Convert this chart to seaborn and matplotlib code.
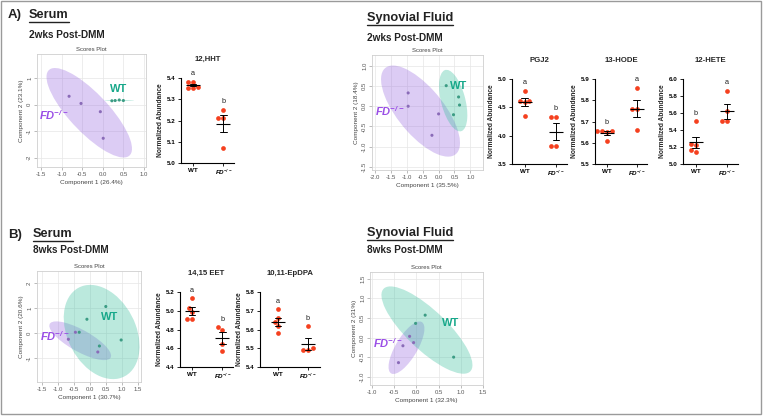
import numpy as np
import pandas as pd
import matplotlib
matplotlib.use("Agg")
import matplotlib.pyplot as plt
import seaborn as sns
from matplotlib.patches import Ellipse, Rectangle
from matplotlib.lines import Line2D

# ---------------- data ----------------
# Scores plots (sPLS-DA), points per group
a_ser_fd_x = [-0.82, -0.53, -0.06, 0.01]
a_ser_fd_y = [0.31, 0.04, -0.27, -1.27]
a_ser_wt_x = [0.22, 0.30, 0.40, 0.50]
a_ser_wt_y = [0.14, 0.15, 0.17, 0.15]
# ellipses: centre x, centre y, major, minor, angle (data units)
a_ser_fd_ell = [-0.33, -0.31, 3.8, 1.1, -61]
a_ser_wt_ell = [0.40, 0.15, 0.72, 0.04, 0]

a_syn_fd_x = [-0.96, -0.96, 0.0, -0.21]
a_syn_fd_y = [0.33, 0.0, -0.19, -0.72]
a_syn_wt_x = [0.24, 0.63, 0.66, 0.47]
a_syn_wt_y = [0.51, 0.23, 0.03, -0.21]
a_syn_fd_ell = [-0.57, -0.12, 3.1, 1.3, -41]
a_syn_wt_ell = [0.46, 0.14, 1.6, 0.75, -70]

b_ser_fd_x = [-0.45, -0.67, 0.25]
b_ser_fd_y = [0.04, -0.24, -0.75]
b_ser_wt_x = [0.50, -0.09, 0.98, 0.30, -0.33]
b_ser_wt_y = [1.07, 0.56, -0.27, -0.51, 0.04]
b_ser_fd_ell = [-0.30, -0.30, 2.34, 0.81, -37]
b_ser_wt_ell = [0.37, 0.05, 3.87, 2.2, -74]

b_syn_fd_x = [-0.15, -0.06, -0.30, -0.40]
b_syn_fd_y = [0.03, -0.13, -0.21, -0.64]
b_syn_wt_x = [0.20, -0.015, 0.84]
b_syn_wt_y = [0.57, 0.36, -0.50]
b_syn_fd_ell = [-0.22, -0.26, 1.48, 0.5, 63]
b_syn_wt_ell = [0.24, 0.19, 2.87, 0.95, -48]

# Normalized abundance dot plots
hht_wt = [5.38, 5.38, 5.36, 5.355, 5.355]
hht_fd = [5.25, 5.21, 5.21, 5.07]
pgj2_wt = [4.78, 4.62, 4.62, 4.60, 4.34]
pgj2_fd = [4.33, 4.33, 3.81, 3.81]
hode_wt = [5.655, 5.655, 5.655, 5.65, 5.606]
hode_fd = [5.86, 5.76, 5.76, 5.66]
hete_wt = [5.50, 5.24, 5.22, 5.17, 5.14]
hete_fd = [5.86, 5.62, 5.50, 5.50]
eet_wt = [5.14, 5.03, 4.99, 4.91, 4.91]
eet_fd = [4.825, 4.795, 4.65, 4.57]
epdpa_wt = [5.71, 5.66, 5.64, 5.62, 5.58]
epdpa_fd = [5.62, 5.50, 5.49, 5.49]

groups = ["WT", "FD"]
group_labels = ["WT", "FD$^{-/-}$"]

# ---------------- style ----------------
sns.set_theme(style="white")
plt.rcParams["font.family"] = ["Liberation Sans", "DejaVu Sans"]
plt.rcParams["mathtext.default"] = "regular"

W, H = 763, 419
fig = plt.figure(figsize=(W / 100, H / 100), dpi=100)
fig.patch.set_facecolor("white")

PURPLE_FILL = "#9b6ee0"
TEAL_FILL = "#3cc0a0"
PURPLE_TXT = "#9a4ee6"
TEAL_TXT = "#17a88a"
PURPLE_PT = "#8a6bb8"
TEAL_PT = "#3c9c84"
RED = "#f5401f"


def ax_px(x0, y0, x1, y1):
    return fig.add_axes([x0 / W, 1 - y1 / H, (x1 - x0) / W, (y1 - y0) / H])


def fmt_ticks(ticks):
    if all(float(t).is_integer() for t in ticks):
        return [str(int(t)) for t in ticks]
    return [f"{t:.1f}" for t in ticks]


def scores(box, fd_x, fd_y, wt_x, wt_y, fd_ell, wt_ell, xlim, xticks, ylim,
           yticks, xlabel, ylabel, wt_pos, fd_pos):
    ax = ax_px(*box)
    ax.set_axisbelow(True)
    ax.grid(True, color="#e6e6e6", lw=0.5)
    for ell, col in ((fd_ell, PURPLE_FILL), (wt_ell, TEAL_FILL)):
        ax.add_patch(Ellipse((ell[0], ell[1]), ell[2], ell[3], angle=ell[4],
                             fc=col, alpha=0.35, lw=0, zorder=1))
    df = pd.DataFrame({"x": fd_x + wt_x, "y": fd_y + wt_y,
                       "g": ["FD"] * len(fd_x) + ["WT"] * len(wt_x)})
    sns.scatterplot(data=df, x="x", y="y", hue="g",
                    palette={"FD": PURPLE_PT, "WT": TEAL_PT}, s=5,
                    linewidth=0, legend=False, ax=ax, zorder=3)
    ax.set_xlim(*xlim)
    ax.set_ylim(*ylim)
    ax.set_xticks(xticks)
    ax.set_yticks(yticks)
    ax.set_xticklabels(fmt_ticks(xticks))
    ax.set_yticklabels(fmt_ticks(yticks), rotation=90, va="center")
    ax.tick_params(labelsize=4.3, labelcolor="#555555", length=2, width=0.4,
                   color="#888888", pad=1.5, bottom=True, left=True)
    for s in ax.spines.values():
        s.set_color("#cfcfcf")
        s.set_linewidth(0.6)
    ax.set_xlabel(xlabel, fontsize=4.6, color="#444444", labelpad=2)
    ax.set_ylabel(ylabel, fontsize=4.6, color="#444444", labelpad=2)
    ax.set_title("Scores Plot", fontsize=4.3, color="#444444", pad=2.5)
    ax.text(wt_pos[0], wt_pos[1], "WT", color=TEAL_TXT, fontsize=8,
            weight="bold", ha="center", va="center", zorder=4)
    ax.text(fd_pos[0], fd_pos[1], "FD$^{-/-}$", color=PURPLE_TXT, fontsize=8,
            weight="bold", style="italic", ha="center", va="center", zorder=4)
    return ax


def dotplot(box, wt, fd, title, ylim, yticks, letters, xlim=(-0.4, 1.35)):
    ax = ax_px(*box)
    df = pd.DataFrame({"grp": ["WT"] * len(wt) + ["FD"] * len(fd),
                       "val": wt + fd})
    sns.swarmplot(data=df, x="grp", y="val", order=groups, color=RED,
                  size=3.4, linewidth=0, ax=ax, zorder=2)
    sns.pointplot(data=df, x="grp", y="val", order=groups, errorbar="se",
                  color="black", markers="_", linestyles="none", capsize=0.22,
                  markersize=9.5, markeredgewidth=0.8,
                  err_kws={"linewidth": 0.7}, ax=ax, zorder=3)
    ax.set_xlim(*xlim)
    ax.set_ylim(*ylim)
    ax.set_yticks(yticks)
    ax.set_yticklabels([f"{t:.1f}" for t in yticks])
    ax.set_xticks([0, 1])
    ax.set_xticklabels(group_labels)
    for lab, st in zip(ax.get_xticklabels(), ["normal", "italic"]):
        lab.set_style(st)
    ax.tick_params(labelsize=4.5, length=2.2, width=0.6, pad=1.5,
                   bottom=True, left=True, color="black", labelcolor="black")
    for lab in ax.get_xticklabels() + ax.get_yticklabels():
        lab.set_weight("bold")
    sns.despine(ax=ax)
    for s in ("left", "bottom"):
        ax.spines[s].set_color("black")
        ax.spines[s].set_linewidth(0.8)
    ax.set_xlabel("")
    ax.set_ylabel("Normalized Abundance", fontsize=4.8, weight="bold",
                  labelpad=2)
    ax.set_title(title, fontsize=5.6, weight="bold", pad=12)
    yr = ylim[1] - ylim[0]
    for i, (vals, let) in enumerate(zip([wt, fd], letters)):
        ax.text(i, max(vals) + 0.1 * yr, let, ha="center", va="center",
                fontsize=5.2, color="#222222")
    return ax


# ---------------- panel A ----------------
scores((37, 54, 146, 167), a_ser_fd_x, a_ser_fd_y, a_ser_wt_x, a_ser_wt_y,
       a_ser_fd_ell, a_ser_wt_ell, (-1.6, 1.05), [-1.5, -1.0, -0.5, 0.0, 0.5, 1.0],
       (-2.35, 1.9), [-2, -1, 0, 1], "Component 1 (26.4%)", "Component 2 (23.1%)",
       (0.39, 0.58), (-1.2, -0.38))
dotplot((181, 78, 234, 163), hht_wt, hht_fd, "12,HHT", (5.0, 5.4),
        [5.0, 5.1, 5.2, 5.3, 5.4], ["a", "b"])

scores((372, 55, 483, 170), a_syn_fd_x, a_syn_fd_y, a_syn_wt_x, a_syn_wt_y,
       a_syn_fd_ell, a_syn_wt_ell, (-2.1, 1.4), [-2.0, -1.5, -1.0, -0.5, 0.0, 0.5, 1.0],
       (-1.58, 1.27), [-1.5, -1.0, -0.5, 0.0, 0.5, 1.0],
       "Component 1 (35.5%)", "Component 2 (18.4%)", (0.63, 0.51), (-1.55, -0.12))
dotplot((512, 79, 567, 164), pgj2_wt, pgj2_fd, "PGJ2", (3.5, 5.0),
        [3.5, 4.0, 4.5, 5.0], ["a", "b"])
dotplot((595, 79, 647, 164), hode_wt, hode_fd, "13-HODE", (5.5, 5.9),
        [5.5, 5.6, 5.7, 5.8, 5.9], ["b", "a"])
dotplot((683, 79, 738, 164), hete_wt, hete_fd, "12-HETE", (5.0, 6.0),
        [5.0, 5.2, 5.4, 5.6, 5.8, 6.0], ["b", "a"])

# ---------------- panel B ----------------
scores((37, 271, 141, 382), b_ser_fd_x, b_ser_fd_y, b_ser_wt_x, b_ser_wt_y,
       b_ser_fd_ell, b_ser_wt_ell, (-1.65, 1.6), [-1.5, -1.0, -0.5, 0.0, 0.5, 1.0, 1.5],
       (-1.95, 2.49), [-1, 0, 1, 2], "Component 1 (30.7%)", "Component 2 (20.6%)",
       (0.63, 0.66), (-1.08, -0.11))
dotplot((180, 292, 233, 367), eet_wt, eet_fd, "14,15 EET", (4.4, 5.2),
        [4.4, 4.6, 4.8, 5.0, 5.2], ["a", "b"])
dotplot((260, 292, 320, 367), epdpa_wt, epdpa_fd, "10,11-EpDPA", (5.4, 5.8),
        [5.4, 5.5, 5.6, 5.7, 5.8], ["a", "b"], xlim=(-0.6, 1.4))

scores((370, 272, 483, 385), b_syn_fd_x, b_syn_fd_y, b_syn_wt_x, b_syn_wt_y,
       b_syn_fd_ell, b_syn_wt_ell, (-1.04, 1.5), [-1.0, -0.5, 0.0, 0.5, 1.0, 1.5],
       (-1.21, 1.67), [-1.0, -0.5, 0.0, 0.5, 1.0, 1.5],
       "Component 1 (32.3%)", "Component 2 (31%)", (0.77, 0.38), (-0.65, -0.15))

# ---------------- headings ----------------
def ftext(x, y, s, **kw):
    return fig.text(x / W, 1 - y / H, s, va="center", ha="left", **kw)

ftext(8, 15, "A)", fontsize=9.5, weight="bold", color="#222222")
ftext(8, 235, "B)", fontsize=9.5, weight="bold", color="#222222")
heads = [ftext(29, 15, "Serum", fontsize=9.2, weight="bold", color="#222222"),
         ftext(367, 18, "Synovial Fluid", fontsize=9.2, weight="bold", color="#222222"),
         ftext(33, 234, "Serum", fontsize=9.2, weight="bold", color="#222222"),
         ftext(367, 233, "Synovial Fluid", fontsize=9.2, weight="bold", color="#222222")]
ftext(29, 35, "2wks Post-DMM", fontsize=7.2, weight="bold", color="#222222")
ftext(367, 38, "2wks Post-DMM", fontsize=7.2, weight="bold", color="#222222")
ftext(33, 250, "8wks Post-DMM", fontsize=7.2, weight="bold", color="#222222")
ftext(367, 250, "8wks Post-DMM", fontsize=7.2, weight="bold", color="#222222")

fig.canvas.draw()
inv = fig.transFigure.inverted()
for t in heads:
    bb = t.get_window_extent()
    (x0, y0), (x1, _) = inv.transform([[bb.x0, bb.y0], [bb.x1, bb.y1]])
    fig.add_artist(Line2D([x0, x1], [y0 - 1.2 / H, y0 - 1.2 / H],
                          transform=fig.transFigure, color="#222222", lw=1.0))

fig.add_artist(Rectangle((1.5 / W, 5 / H), 759.5 / W, 412.5 / H,
                         transform=fig.transFigure, fill=False,
                         ec="#9a9a9a", lw=1.0))

fig.savefig("out.png", dpi=100, facecolor="white")
